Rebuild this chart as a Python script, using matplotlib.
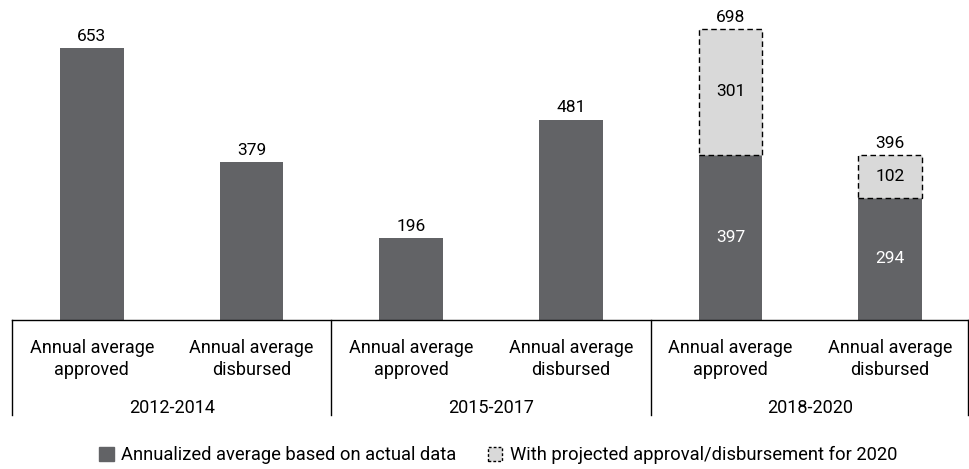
import matplotlib
matplotlib.use("Agg")
import matplotlib.pyplot as plt
from matplotlib.patches import Patch
from matplotlib.transforms import blended_transform_factory

plt.rcParams['font.family'] = ['Roboto', 'DejaVu Sans']

# Data
categories = ["Annual average\napproved", "Annual average\ndisbursed"] * 3
periods = ["2012-2014", "2015-2017", "2018-2020"]
actual = [653, 379, 196, 481, 397, 294]
projected = [0, 0, 0, 0, 301, 102]
legend_labels = ["Annualized average based on actual data",
                 "With projected approval/disbursement for 2020"]

dark = "#626366"
light = "#d9d9d9"

fig = plt.figure(figsize=(9.70, 4.69), dpi=100)
ax = fig.add_axes([12 / 970, 1 - 320 / 469, 958 / 970, 320 / 469])

x = list(range(len(actual)))
width = 0.40
ax.bar(x, actual, width=width, color=dark, zorder=2)
proj_x = [i for i, p in enumerate(projected) if p > 0]
ax.bar(proj_x, [projected[i] for i in proj_x], width=width,
       bottom=[actual[i] for i in proj_x], color=light, edgecolor="black",
       linestyle=(0, (4, 2.5)), linewidth=1.0, zorder=2)

ax.set_xlim(-0.5, 5.5)
ax.set_ylim(0, 768)

# value labels
for i, (a, p) in enumerate(zip(actual, projected)):
    total = a + p
    ax.text(i, total + 10, f"{total}", ha="center", va="bottom", fontsize=12.5, color="black")
    if p > 0:
        ax.text(i, a / 2, f"{a}", ha="center", va="center", fontsize=12.5, color="white")
        ax.text(i, a + p / 2, f"{p}", ha="center", va="center", fontsize=12.5, color="black")

for s in ax.spines.values():
    s.set_visible(False)
ax.set_xticks([])
ax.set_yticks([])

trans = blended_transform_factory(ax.transData, ax.transAxes)
# baseline and group separators
ax.plot([-0.5, 5.5], [0, 0], color="black", lw=1, transform=trans, clip_on=False, zorder=3)
for xs in [-0.5, 1.5, 3.5, 5.49]:
    ax.plot([xs, xs], [0, -95 / 320], color="black", lw=1, transform=trans, clip_on=False)

for i, c in enumerate(categories):
    ax.text(i, -39 / 320, c, ha="center", va="center", fontsize=13,
            linespacing=1.25, transform=trans)
for g, p in enumerate(periods):
    ax.text(2 * g + 0.5, -88 / 320, p, ha="center", va="center", fontsize=13, transform=trans)

handles = [Patch(facecolor=dark, edgecolor=dark),
           Patch(facecolor=light, edgecolor="black", linestyle=(0, (2, 1.5)), linewidth=1.0)]
fig.legend(handles, legend_labels, loc="center", bbox_to_anchor=(498 / 970, 1 - 455 / 469),
           ncol=2, frameon=False, fontsize=13.25, handlelength=0.8, handleheight=0.8,
           handletextpad=0.4, columnspacing=1.7)

fig.savefig("out.png", dpi=100)
